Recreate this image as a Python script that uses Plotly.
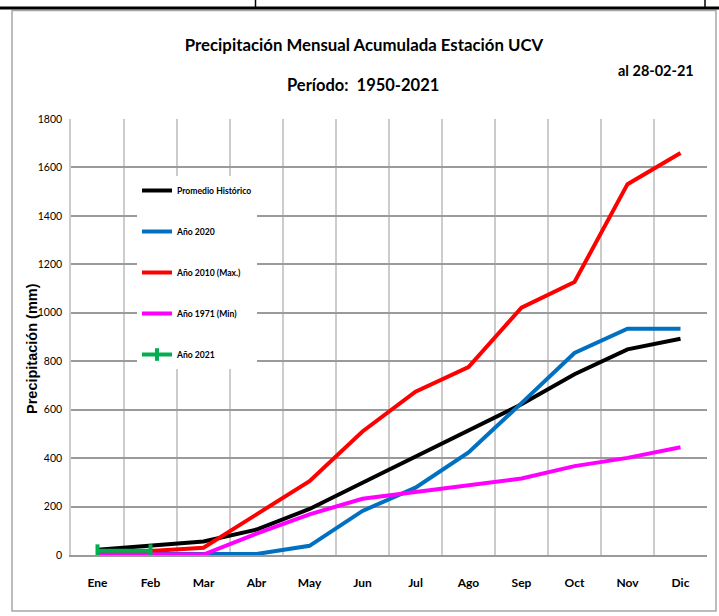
import plotly.graph_objects as go

months = ["Ene", "Feb", "Mar", "Abr", "May", "Jun", "Jul", "Ago", "Sep", "Oct", "Nov", "Dic"]
promedio = [22, 38, 56, 105, 190, 298, 406, 512, 622, 746, 849, 893]
a2020 = [4, 4, 4, 4, 38, 182, 278, 423, 627, 834, 934, 934]
a2010 = [8, 16, 30, 168, 305, 510, 674, 776, 1021, 1127, 1531, 1660]
a1971 = [2, 2, 2, 88, 168, 232, 260, 288, 316, 367, 401, 445]
a2021 = [18, 18]
y_ticks = [0, 200, 400, 600, 800, 1000, 1200, 1400, 1600, 1800]

NARROW = "Lato, Liberation Sans, sans-serif"
ARIAL = "Liberation Sans, Arial, sans-serif"
W, H = 719, 616
ML, MR, MT, MB = 71, 12, 119, 61
PW, PH = W - ML - MR, H - MT - MB


def px(x):
    return (x - ML) / PW


def py(y):
    return (H - MB - y) / PH


fig = go.Figure()
series = [
    ("Promedio Histórico", months, promedio, "#000000", False),
    ("Año 2020", months, a2020, "#0070c0", False),
    ("Año 2010 (Max.)", months, a2010, "#ff0000", False),
    ("Año 1971 (Min)", months, a1971, "#ff00ff", False),
    ("Año 2021", months[:len(a2021)], a2021, "#00b050", True),
]
for name, xs, ys, col, mk in series:
    fig.add_trace(go.Scatter(
        x=xs, y=ys, name=name, legendgroup=name,
        mode="lines+markers" if mk else "lines",
        line=dict(color=col, width=4),
        marker=dict(symbol="line-ns", size=9, line=dict(color=col, width=4)) if mk else None,
    ))

fig.update_layout(
    width=W, height=H,
    margin=dict(l=ML, r=MR, t=MT, b=MB),
    paper_bgcolor="white", plot_bgcolor="white",
    font=dict(family=NARROW, color="black"),
    title=dict(
        text="<b>Precipitación Mensual Acumulada Estación UCV</b>",
        x=px(364), xanchor="center", y=1 - 45 / H, yanchor="middle",
        xref="paper", yref="container",
        font=dict(family=NARROW, size=16.8, color="black"),
    ),
    showlegend=True,
    legend=dict(
        x=px(137), y=py(176), xanchor="left", yanchor="top",
        bgcolor="white", borderwidth=0,
        font=dict(family=NARROW, size=8.6, color="black", weight="bold"),
        traceorder="grouped", tracegroupgap=22,
    ),
    xaxis=dict(
        type="category", categoryorder="array", categoryarray=months,
        range=[-0.5, len(months) - 0.5],
        tickson="boundaries", showgrid=True, gridcolor="#cccccc", gridwidth=1.5,
        showline=True, linecolor="#9a9a9a", linewidth=1.5,
        ticks="", tickfont=dict(family=NARROW, size=12, weight="bold"),
        ticklabelstandoff=16,
    ),
    yaxis=dict(
        range=[0, 1800], tickvals=y_ticks, showgrid=True, gridcolor="#9a9a9a", gridwidth=1.5,
        showline=True, linecolor="#cccccc", linewidth=1.5, zeroline=False,
        ticks="", tickfont=dict(family=NARROW, size=10.5),
        ticklabelstandoff=5,
    ),
    shapes=[
        dict(type="rect", xref="paper", yref="paper", layer="between",
             x0=px(139), x1=px(262), y0=py(373), y1=py(167),
             fillcolor="white", line=dict(width=0)),
        dict(type="rect", xref="paper", yref="paper", layer="below",
             x0=px(12), x1=px(716), y0=py(611), y1=py(10.5),
             line=dict(color="#a6a6a6", width=1.5)),
        dict(type="line", xref="paper", yref="paper",
             x0=px(0), x1=px(719), y0=py(8), y1=py(8),
             line=dict(color="black", width=3)),
        dict(type="line", xref="paper", yref="paper",
             x0=px(255.5), x1=px(255.5), y0=py(8), y1=py(-2),
             line=dict(color="black", width=1.5)),
        dict(type="line", xref="paper", yref="paper",
             x0=px(705), x1=px(705), y0=py(8), y1=py(-2),
             line=dict(color="black", width=1.5)),
    ],
    annotations=[
        dict(text="<b>Período:  1950-2021</b>", xref="paper", yref="paper",
             x=px(363), y=py(85), xanchor="center", yanchor="middle", showarrow=False,
             font=dict(family=NARROW, size=16.5, color="black")),
        dict(text="<b>al 28-02-21</b>", xref="paper", yref="paper",
             x=px(656), y=py(70), xanchor="center", yanchor="middle", showarrow=False,
             font=dict(family=NARROW, size=14.5, color="black")),
        dict(text="<b>Precipitación (mm)</b>", xref="paper", yref="paper",
             x=px(32), y=py(349), xanchor="center", yanchor="middle", showarrow=False,
             textangle=-90, font=dict(family=ARIAL, size=14.5, color="black")),
    ],
)

fig.write_html("out.html", config={"displayModeBar": False},
               post_script="document.body.style.margin='0px';")
